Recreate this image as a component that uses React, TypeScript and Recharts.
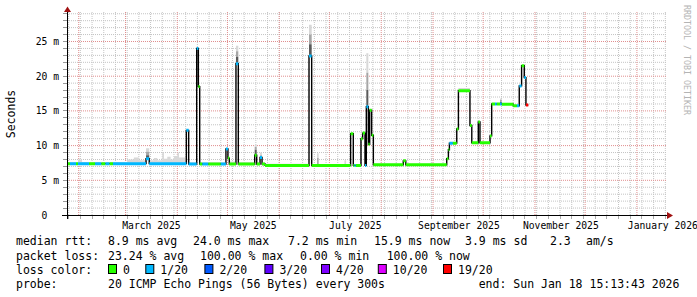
import React from "react";
import { ComposedChart, Line, Area, XAxis, YAxis, CartesianGrid } from "recharts";

// x axis = days since 2025-01-01
const START_DAY = 24;
const END_DAY = 383;
const DATA_END = 300;

// median rtt in ms, value holds until the next entry
const medianSteps: [number, number][] = [
  [24, 7.4], [71.3, 8.1], [73.2, 7.4], [95.4, 12.2], [96.8, 7.35],
  [101.6, 24.0], [102.6, 18.5], [103.4, 7.35], [119.1, 9.5], [120.3, 8.2],
  [121.1, 7.35], [125.1, 21.8], [126.5, 7.35], [136.3, 8.6], [137.5, 7.35],
  [139.5, 8.3], [140.7, 7.35], [142.5, 7.15], [168.8, 22.9], [170.4, 7.15],
  [193.7, 11.7], [195.3, 7.15], [199.9, 11.0], [200.9, 11.8], [202.3, 7.15],
  [203.1, 15.6], [204.3, 10.2], [205.1, 15.1], [206.3, 11.5], [207.3, 7.25],
  [225.2, 7.8], [226.7, 7.25], [251.2, 8.1], [252.2, 9.4], [252.8, 10.35],
  [257.2, 12.4], [258.2, 17.9], [265.1, 12.9], [266.2, 10.4], [270.1, 13.4],
  [271.1, 10.4], [277.1, 11.4], [278.1, 16.0], [284.1, 15.95], [291, 15.75],
  [294.6, 18.6], [296, 21.5], [297.6, 19.8], [298.6, 15.85],
];

// packet loss level (index into lossLevels)
const lossSteps: [number, number][] = [
  [24, 0], [25.8, 1], [29.4, 0], [30.6, 1], [37.2, 0], [40.8, 1], [44.5, 0],
  [47, 1], [49.4, 0], [51.5, 1], [102.6, 0], [105, 1], [108.5, 0], [116, 1],
  [120.3, 0], [125.1, 1], [126.5, 0], [139.5, 1], [140.7, 0], [168.8, 1],
  [170.4, 0], [196, 1], [196.7, 0], [202.3, 1], [204.3, 0], [252.8, 1],
  [254.8, 0], [280.1, 1], [281.1, 0], [283.1, 1], [284.1, 0], [293.2, 1],
  [296, 0], [297.6, 1], [298.6, 6],
];

// smoke: [day, light top, mid top, dark top] in ms (0 = none)
const smokeSteps: [number, number, number, number][] = [
  [24, 7.6, 0, 0], [30.6, 8.0, 0, 0], [33, 7.65, 0, 0], [60, 8.0, 0, 0], [64, 8.3, 0, 0],
  [67, 7.9, 0, 0], [71.3, 9.6, 9.1, 8.6], [73.2, 7.9, 0, 0], [76, 8.2, 0, 0], [78, 7.9, 0, 0],
  [81, 9.0, 0, 0], [82, 8.1, 0, 0], [84, 8.4, 0, 0], [86, 8.0, 0, 0], [88, 8.5, 0, 0],
  [90, 9.0, 0, 0], [91, 8.3, 0, 0], [95.4, 0, 0, 0], [96.8, 7.6, 0, 0], [101.6, 0, 0, 0],
  [103.4, 7.6, 0, 0], [119.1, 0, 0, 0], [121.1, 7.7, 0, 0], [125.1, 24.4, 23.6, 22.8],
  [126.5, 7.6, 0, 0], [136.3, 10.1, 9.8, 9.4], [137.5, 7.6, 0, 0], [139.5, 9.0, 8.6, 0],
  [140.7, 7.6, 0, 0], [142.5, 7.4, 0, 0], [168.8, 27.4, 26.0, 24.6], [170.4, 7.3, 0, 0],
  [173.6, 8.9, 8.2, 0], [174.6, 7.3, 0, 0], [190, 7.9, 0, 0], [191, 7.3, 0, 0],
  [203.1, 23.3, 20.5, 18.0], [204.3, 0, 0, 0], [207.3, 7.4, 0, 0], [258.2, 18.3, 0, 0],
  [265.1, 0, 0, 0], [283.1, 16.8, 16.6, 16.3], [284.1, 0, 0, 0],
];

const lossLevels = ["0", "1/20", "2/20", "3/20", "4/20", "10/20", "19/20"];
const lossColors = ["#26ff00", "#00b8ff", "#0059ff", "#5e00ff", "#7e00ff", "#dd00ff", "#ff0000"];

const monthStarts = [31, 59, 90, 120, 151, 181, 212, 243, 273, 304, 334, 365];
const monthLabelDays = [74.5, 135.5, 196.5, 258.5, 319.5, 380.5];
const monthLabels = ["March 2025", "May 2025", "July 2025", "September 2025", "November 2025", "January 2026"];

const weekDays: number[] = [];
for (let d = 25; d < END_DAY; d += 7) weekDays.push(d);

const yMajor = [5, 10, 15, 20, 25];
const yMinor: number[] = [];
for (let v = 1; v <= 29; v++) if (v % 5 !== 0) yMinor.push(v);
const yTicks = [0, ...yMinor, ...yMajor].sort((a, b) => a - b);

const MONO = '"DejaVu Sans Mono", monospace';
const smokeShades = ["#d8d8d8", "#a6a6a6", "#5a5a5a"];

function stepAt(steps: any[], d: number) {
  let cur = steps[0];
  for (const s of steps) if (s[0] <= d) cur = s;
  return cur;
}

// build rows: two points per interval plus a gap row so colours never draw verticals
const breaks = Array.from(
  new Set([...medianSteps, ...lossSteps, ...smokeSteps].map((s) => s[0]).filter((d) => d < DATA_END))
).sort((a, b) => a - b);

const rows: any[] = [];
breaks.forEach((s, i) => {
  const e = i + 1 < breaks.length ? breaks[i + 1] : DATA_END;
  const v = stepAt(medianSteps, s)[1];
  const lvl = stepAt(lossSteps, s)[1];
  const sm = stepAt(smokeSteps, s);
  const base: any = { med: v, ["c" + lvl]: v };
  // dark band sits on the median, mid above it, light on top
  let floor = v;
  [3, 2, 1].forEach((k, n) => {
    const top = sm[k];
    const key = "s" + (2 - n);
    if (top > floor) {
      base[key] = [floor, top];
      floor = top;
    } else base[key] = null;
  });
  rows.push({ t: s, ...base }, { t: e, ...base }, { t: e });
});

const crisp = (p: number) => Math.floor(p) + 0.5;

const XTick = (props: any) => {
  const { x, y, payload } = props;
  const idx = monthLabelDays.indexOf(payload.value);
  if (idx >= 0) {
    return (
      <text x={x} y={y + 10} textAnchor="middle" dominantBaseline="central" fontFamily={MONO} fontSize={9.7} fill="#000">
        {monthLabels[idx]}
      </text>
    );
  }
  const cx = crisp(x);
  return <line x1={cx} x2={cx} y1={y} y2={y + 4} stroke="#aaa" />;
};

const YTick = (props: any) => {
  const { x, y, payload } = props;
  const v = payload.value;
  const cy = crisp(y);
  return (
    <g>
      <line x1={x - 4} x2={x} y1={cy} y2={cy} stroke="#999" />
      {v % 5 === 0 && (
        <text x={v === 0 ? x - 8 - 11.7 : x - 8} y={y} textAnchor="end" dominantBaseline="central" fontFamily={MONO} fontSize={9.7} fill="#000">
          {v === 0 ? "0" : `${v} m`}
        </text>
      )}
    </g>
  );
};

const legendLines = [
  { y: 241, parts: [[16, "median rtt:"], [108, "8.9 ms avg"], [193, "24.0 ms max"], [288, "7.2 ms min"], [374, "15.9 ms now"], [465, "3.9 ms sd"], [550, "2.3"], [586, "am/s"]] },
  { y: 255.5, parts: [[16, "packet loss:"], [108, "23.24 % avg"], [200, "100.00 % max"], [300, "0.00 % min"], [386.7, "100.00 % now"]] },
  { y: 269.5, parts: [[16, "loss color:"]] },
  { y: 283.5, parts: [[16, "probe:"], [108, "20 ICMP Echo Pings (56 Bytes) every 300s"], [478.7, "end: Sun Jan 18 15:13:43 2026"]] },
];
const lossBoxX = [108, 145.3, 204.4, 264.4, 321, 377.8, 443];

export default function App() {
  return (
    <div style={{ position: "absolute", left: 0, top: 0, width: 697, height: 297, background: "#fff" }}>
      <ComposedChart width={697} height={297} data={rows} margin={{ top: 12, right: 30, bottom: 62, left: 0 }}>
        <CartesianGrid stroke="#c4c4c4" strokeDasharray="1 1" verticalValues={weekDays} horizontalValues={yMinor} />
        <CartesianGrid stroke="#e08e8e" strokeDasharray="1 1" verticalValues={monthStarts} horizontalValues={yMajor} />
        <XAxis
          dataKey="t"
          type="number"
          domain={[START_DAY, END_DAY]}
          allowDataOverflow
          ticks={[...weekDays, ...monthLabelDays].sort((a, b) => a - b)}
          interval={0}
          height={20}
          axisLine={false}
          tickLine={false}
          tickSize={0}
          tickMargin={0}
          tick={XTick}
        />
        <YAxis
          type="number"
          domain={[0, 29.25]}
          allowDataOverflow
          ticks={yTicks}
          interval={0}
          width={67}
          axisLine={false}
          tickLine={false}
          tickSize={0}
          tickMargin={0}
          tick={YTick}
        />
        {smokeShades.map((c, i) => (
          <Area
            key={"s" + i}
            dataKey={"s" + i}
            type="linear"
            stroke="none"
            fill={c}
            fillOpacity={1}
            isAnimationActive={false}
            dot={false}
            activeDot={false}
          />
        ))}
        <Line dataKey="med" type="linear" stroke="#000" strokeWidth={1.4} connectNulls dot={false} activeDot={false} isAnimationActive={false} />
        {lossColors.map((c, i) => (
          <Line
            key={i}
            dataKey={"c" + i}
            type="linear"
            stroke={c}
            strokeWidth={3}
            dot={false}
            activeDot={false}
            isAnimationActive={false}
          />
        ))}
      </ComposedChart>
      <svg width={697} height={297} style={{ position: "absolute", left: 0, top: 0, pointerEvents: "none" }}>
        <line x1={62} x2={668} y1={215.5} y2={215.5} stroke="#000" />
        <line x1={67.5} x2={67.5} y1={219} y2={11} stroke="#000" />
        <polygon points="667,212 673,215.5 667,219" fill="#a01010" />
        <polygon points="64,12 67.5,6.5 71,12" fill="#a01010" />
        <text transform="translate(15,114) rotate(-90)" textAnchor="middle" fontFamily={MONO} fontSize={11.5} fill="#000">
          Seconds
        </text>
        <text transform="translate(684,5) rotate(90)" fontFamily={MONO} fontSize={8.3} fill="#b4b4b4">
          RRDTOOL / TOBI OETIKER
        </text>
        {legendLines.map((ln, i) =>
          ln.parts.map(([x, s], j) => (
            <text key={i + "-" + j} x={x as number} y={ln.y} dominantBaseline="central" fontFamily={MONO} fontSize={11.5} fill="#000">
              {s}
            </text>
          ))
        )}
        {lossLevels.map((lbl, i) => (
          <g key={lbl}>
            <rect x={lossBoxX[i] + 0.5} y={264.5} width={8} height={9} fill={lossColors[i]} stroke="#000" />
            <text x={lossBoxX[i] + 15} y={269.5} dominantBaseline="central" fontFamily={MONO} fontSize={11.5} fill="#000">
              {lbl}
            </text>
          </g>
        ))}
      </svg>
    </div>
  );
}
